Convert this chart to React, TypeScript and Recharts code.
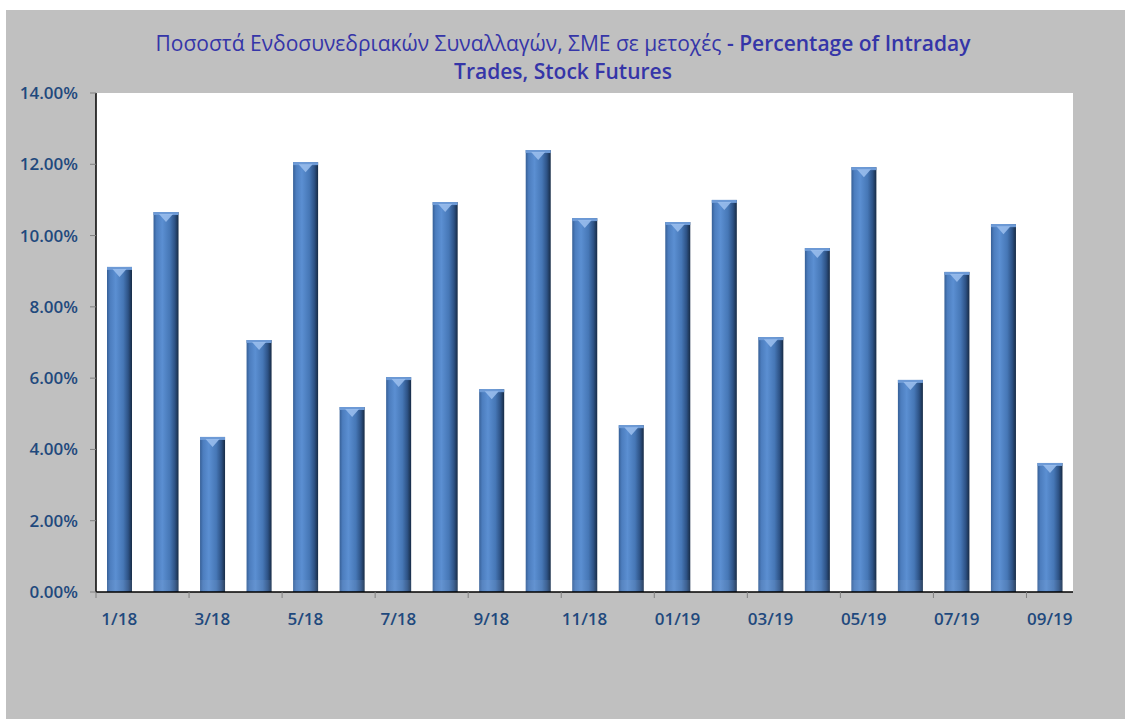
import React from 'react';
import { BarChart, Bar, XAxis, YAxis, CartesianGrid } from 'recharts';

const months = [
  '1/18', '2/18', '3/18', '4/18', '5/18', '6/18', '7/18', '8/18', '9/18', '10/18', '11/18', '12/18',
  '01/19', '02/19', '03/19', '04/19', '05/19', '06/19', '07/19', '08/19', '09/19',
];

const intradayPct = [
  9.12, 10.66, 4.35, 7.07, 12.06, 5.19, 6.03, 10.94, 5.69, 12.4, 10.49, 4.68,
  10.38, 11.0, 7.15, 9.65, 11.92, 5.95, 8.98, 10.32, 3.62,
];

const yTicks = [0, 2, 4, 6, 8, 10, 12, 14];

const data = months.map((m, i) => ({ month: m, value: intradayPct[i] }));

const labelColor = '#1f497d';
const font = "'Open Sans', sans-serif";

const CylinderBar = (props: any) => {
  const { x, y, width, height } = props;
  if (!height || height <= 0) return null;
  const cx = x + width / 2;
  return (
    <g>
      <rect x={x} y={y} width={width} height={height} fill="url(#cylGrad)" />
      <rect x={x} y={y + height - 12} width={width} height={12} fill="#8aa6cf" opacity={0.18} />
      <rect x={x} y={y} width={width} height={3} fill="#6d9ad6" />
      <path d={`M${cx - 7},${y + 2} L${cx + 7},${y + 2} L${cx},${y + 10} Z`} fill="#9cc0ee" opacity={0.85} />
    </g>
  );
};

const MonthTick = (props: any) => {
  const { x, y, payload } = props;
  const half = payload && payload.offset ? payload.offset : 977 / 21 / 2;
  return (
    <g>
      <line x1={x - half} y1={y} x2={x - half} y2={y + 6} stroke="#808080" strokeWidth={1} />
      <text x={x} y={y + 33} textAnchor="middle" fill={labelColor} fontFamily={font} fontWeight={600} fontSize={17}>
        {payload.value}
      </text>
    </g>
  );
};

export default function App() {
  return (
    <div
      style={{
        position: 'absolute',
        left: 6,
        top: 10,
        width: 1119,
        height: 709,
        background: '#c0c0c0',
      }}
    >
      <BarChart
        width={1119}
        height={709}
        data={data}
        margin={{ top: 83, right: 52, bottom: 97, left: 0 }}
        barSize={25}
        style={{ position: 'absolute', left: 0, top: 0 }}
      >
        <defs>
          <linearGradient id="cylGrad" x1="0" y1="0" x2="1" y2="0">
            <stop offset="0%" stopColor="#365f96" />
            <stop offset="12%" stopColor="#4c7dbe" />
            <stop offset="35%" stopColor="#5b8fd2" />
            <stop offset="65%" stopColor="#4677b6" />
            <stop offset="85%" stopColor="#2d5285" />
            <stop offset="100%" stopColor="#172b45" />
          </linearGradient>
        </defs>
        <CartesianGrid fill="#ffffff" stroke="none" horizontal={false} vertical={false} />
        <XAxis
          dataKey="month"
          interval={1}
          tickSize={0}
          tickMargin={0}
          axisLine={{ stroke: '#000000', strokeWidth: 1.5 }}
          tick={<MonthTick />}
          height={30}
        />
        <YAxis
          domain={[0, 14]}
          ticks={yTicks}
          width={90}
          tickSize={6}
          tickMargin={12}
          tickFormatter={(v: number) => `${v.toFixed(2)}%`}
          axisLine={{ stroke: '#000000', strokeWidth: 1.5 }}
          tickLine={{ stroke: '#808080' }}
          tick={{ fill: labelColor, fontFamily: font, fontWeight: 600, fontSize: 17 }}
        />
        <Bar dataKey="value" shape={<CylinderBar />} isAnimationActive={false} />
      </BarChart>
      <div
        style={{
          position: 'absolute',
          left: 0,
          top: 19,
          width: 1114,
          textAlign: 'center',
          color: '#3535a8',
          fontFamily: font,
          fontSize: 21,
          lineHeight: '28px',
        }}
      >
        <div>
          <span>Ποσοστά Ενδοσυνεδριακών Συναλλαγών, ΣΜΕ σε μετοχές</span>
          <span style={{ fontWeight: 600 }}> - Percentage of Intraday</span>
        </div>
        <div style={{ fontWeight: 600 }}>Trades, Stock Futures</div>
      </div>
    </div>
  );
}
